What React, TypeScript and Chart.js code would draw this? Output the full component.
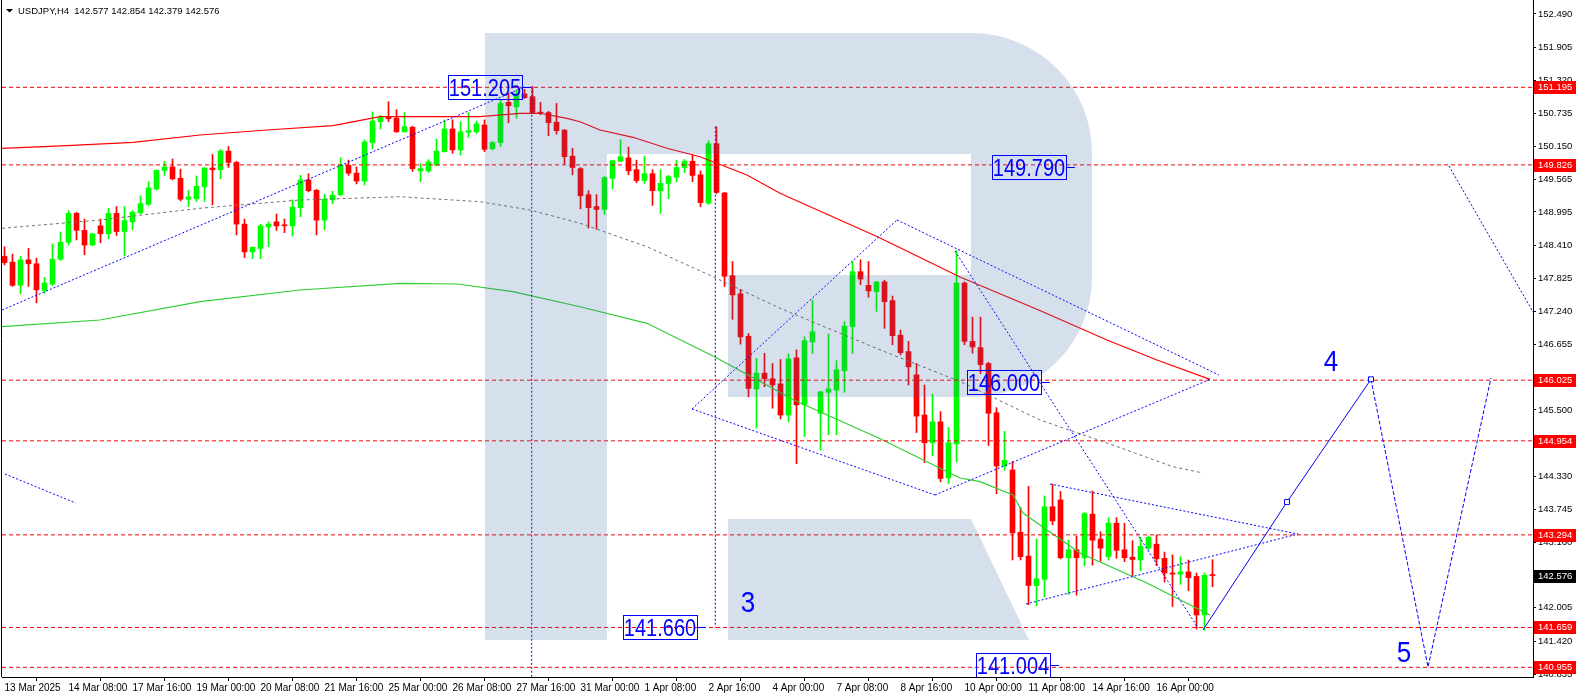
import React, { useEffect, useRef } from "react";
import { Chart, registerables } from "chart.js";

Chart.register(...registerables);

// ---------------- data ----------------
const opens = [
  148.21, 148.11, 147.70, 148.15, 148.08, 147.61, 147.72, 148.16, 148.46, 148.97,
  148.67, 148.41, 148.75, 148.61, 148.97, 148.65, 148.82, 148.98, 149.13, 149.40,
  149.73, 149.79, 149.59, 149.22, 149.23, 149.44, 149.77, 149.74, 150.07, 149.87,
  148.78, 148.29, 148.35, 148.73, 148.82, 148.76, 148.75, 149.07, 149.56, 149.38,
  148.85, 149.21, 149.30, 149.82, 149.68, 149.54, 150.22, 150.59, 150.67, 150.65,
  150.41, 150.49, 149.72, 149.72, 149.82, 150.06, 150.46, 150.09, 150.40, 150.41,
  150.53, 150.11, 150.22, 150.93, 150.85, 151.08, 151.03, 150.75, 150.75, 150.58,
  150.44, 149.98, 149.76, 149.30, 149.09, 149.04, 149.59, 149.89, 149.95, 149.74,
  149.55, 149.67, 149.37, 149.50, 149.61, 149.78, 149.89, 149.65, 149.15, 150.20,
  149.33, 147.87, 147.55, 146.80, 145.87, 146.15, 146.05, 145.96, 145.41, 146.42,
  145.59, 146.70, 145.44, 145.81, 145.85, 146.19, 146.97, 147.94, 147.70, 147.59,
  147.76, 147.43, 146.82, 146.53, 146.12, 145.41, 144.92, 145.29, 144.30, 144.90,
  147.74, 146.71, 146.60, 146.32, 145.45, 144.51, 144.44, 143.34, 142.92, 142.40,
  142.51, 143.79, 143.91, 142.89, 143.03, 142.89, 143.66, 143.22, 142.91, 143.50,
  143.03, 142.90, 142.85, 143.06, 143.13, 142.88, 142.62, 142.60, 142.64, 142.56,
  141.88, 142.577,
];
const highs = [
  148.38, 148.25, 148.21, 148.35, 148.18, 147.84, 148.43, 148.64, 149.02, 148.99,
  148.87, 148.62, 148.87, 149.06, 149.09, 149.09, 149.02, 149.28, 149.53, 149.74,
  149.89, 149.93, 149.75, 149.38, 149.63, 149.78, 150.01, 150.10, 150.15, 149.89,
  148.87, 148.38, 148.78, 148.82, 148.96, 148.87, 149.21, 149.64, 149.67, 149.39,
  149.31, 149.36, 149.95, 149.91, 149.79, 150.27, 150.76, 150.70, 150.94, 150.80,
  150.75, 150.51, 149.85, 149.92, 150.28, 150.62, 150.62, 150.59, 150.75, 150.60,
  150.62, 150.24, 150.97, 151.09, 151.15, 151.16, 151.21, 150.93, 150.77, 150.91,
  150.45, 150.12, 149.78, 149.37, 149.30, 149.62, 149.91, 150.27, 150.14, 149.91,
  149.98, 149.74, 149.74, 149.64, 149.91, 149.92, 150.00, 149.72, 150.25, 150.50,
  149.34, 148.12, 147.63, 146.85, 146.41, 146.50, 146.32, 146.39, 146.49, 146.56,
  146.79, 147.44, 145.83, 146.84, 146.37, 147.06, 148.12, 148.15, 148.12, 147.77,
  147.79, 147.51, 146.91, 146.71, 146.32, 145.94, 145.78, 145.47, 145.19, 148.31,
  147.76, 147.14, 147.14, 146.34, 145.54, 145.12, 144.59, 143.78, 144.15, 143.22,
  143.98, 144.19, 144.06, 143.20, 143.27, 143.69, 144.07, 143.35, 143.60, 143.60,
  143.50, 143.19, 143.25, 143.27, 143.29, 142.99, 142.94, 142.91, 142.85, 142.62,
  142.62, 142.854,
];
const lows = [
  148.06, 147.68, 147.55, 147.68, 147.39, 147.56, 147.70, 148.14, 148.41, 148.50,
  148.24, 148.40, 148.45, 148.52, 148.58, 148.22, 148.68, 148.96, 149.11, 149.38,
  149.64, 149.56, 149.19, 149.09, 149.18, 149.18, 149.12, 149.58, 149.78, 148.59,
  148.19, 148.17, 148.17, 148.38, 148.67, 148.63, 148.57, 148.91, 149.35, 148.59,
  148.68, 149.14, 149.28, 149.64, 149.49, 149.47, 150.11, 150.46, 150.59, 150.40,
  150.40, 149.71, 149.53, 149.69, 149.81, 150.05, 150.03, 150.00, 150.31, 150.38,
  150.06, 150.09, 150.15, 150.57, 150.65, 151.00, 150.74, 150.71, 150.34, 150.37,
  149.84, 149.65, 149.05, 148.71, 148.69, 148.95, 149.40, 149.88, 149.65, 149.51,
  149.50, 149.11, 148.97, 149.23, 149.53, 149.69, 149.53, 149.09, 149.13, 149.32,
  147.68, 147.10, 146.66, 145.73, 145.18, 145.91, 145.53, 145.34, 145.29, 144.55,
  145.03, 146.50, 144.79, 145.06, 145.06, 145.81, 146.50, 147.71, 147.49, 147.24,
  146.94, 146.65, 146.47, 145.94, 145.10, 144.57, 144.69, 144.23, 144.20, 144.58,
  146.65, 146.50, 146.14, 144.87, 144.02, 144.44, 142.85, 142.85, 142.06, 142.04,
  142.20, 143.47, 142.87, 142.24, 142.23, 142.75, 142.76, 142.83, 142.85, 142.88,
  142.82, 142.57, 142.66, 143.03, 142.75, 142.46, 142.03, 142.42, 142.31, 141.63,
  141.61, 142.379,
];
const closes = [
  148.10, 147.70, 148.15, 148.08, 147.62, 147.74, 148.16, 148.46, 148.97, 148.67,
  148.41, 148.61, 148.61, 148.97, 148.65, 148.84, 148.99, 149.14, 149.42, 149.73,
  149.79, 149.58, 149.22, 149.26, 149.45, 149.77, 149.74, 150.07, 149.87, 148.78,
  148.29, 148.37, 148.75, 148.78, 148.75, 148.75, 149.08, 149.56, 149.37, 148.85,
  149.22, 149.29, 149.82, 149.68, 149.54, 150.23, 150.60, 150.67, 150.64, 150.41,
  150.50, 149.76, 149.76, 149.88, 150.07, 150.46, 150.09, 150.41, 150.43, 150.55,
  150.10, 150.22, 150.91, 150.87, 151.08, 151.01, 150.75, 150.74, 150.57, 150.43,
  149.97, 149.78, 149.28, 149.07, 149.04, 149.60, 149.90, 149.97, 149.72, 149.55,
  149.67, 149.37, 149.50, 149.62, 149.78, 149.89, 149.64, 149.16, 150.20, 149.34,
  147.86, 147.53, 146.79, 145.88, 146.15, 146.05, 145.94, 145.41, 146.40, 145.59,
  146.72, 146.88, 145.82, 145.87, 146.21, 146.98, 147.94, 147.81, 147.60, 147.76,
  147.41, 146.81, 146.51, 146.26, 145.39, 144.92, 145.29, 144.29, 144.92, 147.74,
  146.71, 146.61, 146.30, 145.44, 144.51, 144.61, 143.33, 142.91, 142.40, 142.52,
  143.79, 143.54, 142.89, 143.03, 142.89, 143.67, 143.20, 143.06, 143.50, 143.02,
  142.89, 142.86, 143.09, 143.25, 142.87, 142.62, 142.60, 142.64, 142.54, 141.88,
  142.58, 142.576,
];

const xTickBars = [0, 8, 16, 24, 32, 40, 48, 56, 64, 72, 80, 88, 96, 104, 112, 120, 128, 136, 144];
const xTickLabels = [
  "13 Mar 2025", "14 Mar 08:00", "17 Mar 16:00", "19 Mar 00:00", "20 Mar 08:00",
  "21 Mar 16:00", "25 Mar 00:00", "26 Mar 08:00", "27 Mar 16:00", "31 Mar 00:00",
  "1 Apr 08:00", "2 Apr 16:00", "4 Apr 00:00", "7 Apr 08:00", "8 Apr 16:00",
  "10 Apr 00:00", "11 Apr 08:00", "14 Apr 16:00", "16 Apr 00:00",
];
const yTickValues = [
  152.49, 151.905, 151.32, 150.735, 150.15, 149.565, 148.995, 148.41, 147.825, 147.24,
  146.655, 146.07, 145.5, 144.915, 144.33, 143.745, 143.16, 142.575, 142.005, 141.42, 140.835,
];

// moving averages
const redMaBars = [-0.31, 7.81, 16.06, 24.44, 32.81, 41.06, 46.94, 59.44, 64.44, 66.94, 70.31, 71.94, 74.44, 78.56, 82.81, 86.94, 92.81, 96.94, 109.19, 119.44, 129.56, 137.81, 144.06, 150.69];
const redMaValues = [150.119, 150.165, 150.225, 150.354, 150.442, 150.518, 150.677, 150.677, 150.737, 150.737, 150.648, 150.588, 150.442, 150.313, 150.119, 149.97, 149.647, 149.324, 148.553, 147.847, 147.246, 146.734, 146.381, 146.04];
const grayMaBars = [-0.31, 11.94, 24.44, 36.94, 49.44, 59.44, 65.69, 71.94, 80.31, 88.56, 96.94, 109.19, 119.44, 129.44, 137.81, 146.06, 149.81];
const grayMaValues = [148.706, 148.853, 149.06, 149.206, 149.264, 149.176, 149.029, 148.795, 148.381, 147.852, 147.294, 146.575, 146.001, 145.322, 144.916, 144.497, 144.386];
const greenMaBars = [-0.31, 11.94, 24.44, 36.94, 49.44, 56.56, 63.56, 71.94, 80.31, 88.81, 99.06, 109.19, 119.44, 121.94, 126.06, 127.31, 129.44, 134.44, 142.81, 150.69];
const greenMaValues = [146.969, 147.087, 147.411, 147.617, 147.735, 147.723, 147.587, 147.322, 147.029, 146.434, 145.648, 145.009, 144.298, 144.233, 143.998, 143.68, 143.468, 142.974, 142.444, 141.879];

// horizontal levels and last price
const levelValues = [151.195, 149.826, 146.025, 144.954, 143.294, 141.659, 140.955];
const lastPrice = 142.576;

// dotted trend lines: [bar1, value1, bar2, value2]
const uptrendLine = [-0.31, 147.264, 65.06, 151.205];
const verticalLine1 = [65.9, 151.205, 65.9, 140.6];
const verticalLine2 = [88.85, 150.5, 88.85, 141.66];
const diamondAB = [85.94, 145.516, 111.56, 148.853];
const diamondBC = [111.56, 148.853, 151.81, 146.116];
const diamondAD = [85.94, 145.516, 116.31, 143.998];
const diamondDC = [116.31, 143.998, 150.81, 146.046];
const steepLine = [118.81, 148.306, 149.19, 141.65];
const wedgeTop = [130.69, 144.192, 161.69, 143.309];
const wedgeBottom = [127.69, 142.073, 161.69, 143.309];
const leftStub = [0.06, 144.368, 8.88, 143.857];
const rightDown = [180.56, 149.806, 191.94, 147.017];

// forecast paths
const forecastBars = [149.81, 160.31, 170.81];
const forecastValues = [141.614, 143.874, 146.04];
const forecastDashBars = [170.81, 177.94, 185.81];
const forecastDashValues = [146.04, 140.961, 146.063];

// text labels
const priceLabelTexts = ["151.205", "149.790", "146.000", "141.660", "141.004"];
const priceLabelBars = [64.69, 132.65, 129.61, 86.6, 130.65];
const priceLabelValues = [151.205, 149.79, 146.0, 141.66, 141.004];
const waveLabels = ["3", "4", "5"];
const waveBars = [92.94, 165.81, 174.94];
const waveValues = [142.109, 146.363, 141.226];
const headerText = "USDJPY,H4  142.577 142.854 142.379 142.576";

// ---------------- config ----------------
const X_MIN = -0.3125;
const X_MAX = 191.0625;
const Y_MIN = 140.7845;
const Y_MAX = 152.737;

const FONT = '"Liberation Sans", Arial, sans-serif';
const BLUE = "#0000ff";

const candleColors = closes.map((c, i) => (c >= opens[i] ? "#00ff00" : "#ff0000"));

function seg(s: number[], color: string, dash: number[], order: number, width = 1) {
  return {
    type: "line" as const,
    data: [{ x: s[0], y: s[1] }, { x: s[2], y: s[3] }],
    borderColor: color,
    borderWidth: width,
    borderDash: dash,
    pointRadius: 0,
    fill: false,
    tension: 0,
    order,
  };
}

function series(bars: number[], values: number[], color: string, dash: number[], width: number, order: number) {
  return {
    type: "line" as const,
    data: bars.map((b, i) => ({ x: b, y: values[i] })),
    borderColor: color,
    borderWidth: width,
    borderDash: dash,
    pointRadius: 0,
    fill: false,
    tension: 0,
    order,
  };
}

const overlayPlugin = {
  id: "overlay",
  afterDatasetsDraw(chart: any) {
    const ctx: CanvasRenderingContext2D = chart.ctx;
    const a = chart.chartArea;
    const xs = chart.scales.x;
    const ys = chart.scales.y;
    ctx.save();
    ctx.beginPath();
    ctx.rect(a.left, a.top, a.right - a.left, a.bottom - a.top);
    ctx.clip();

    // watermark "R"
    ctx.fillStyle = "rgba(51,102,158,0.2)";
    ctx.beginPath();
    ctx.moveTo(485, 33);
    ctx.lineTo(972, 33);
    ctx.arcTo(1092, 33, 1092, 153, 120);
    ctx.lineTo(1092, 277);
    ctx.arcTo(1092, 397, 972, 397, 120);
    ctx.lineTo(728, 397);
    ctx.lineTo(728, 275);
    ctx.lineTo(971, 275);
    ctx.lineTo(971, 154);
    ctx.lineTo(607, 154);
    ctx.lineTo(607, 640);
    ctx.lineTo(485, 640);
    ctx.closePath();
    ctx.moveTo(728, 519);
    ctx.lineTo(971, 519);
    ctx.lineTo(1029, 640);
    ctx.lineTo(728, 640);
    ctx.closePath();
    ctx.fill();

    // price label boxes
    priceLabelTexts.forEach((t, i) => {
      const xr = Math.round(xs.getPixelForValue(priceLabelBars[i]));
      const yc = Math.round(ys.getPixelForValue(priceLabelValues[i]));
      ctx.strokeStyle = BLUE;
      ctx.lineWidth = 1;
      ctx.strokeRect(xr - 74 + 0.5, yc - 12 + 0.5, 74, 24);
      ctx.beginPath();
      ctx.moveTo(xr, yc + 0.5);
      ctx.lineTo(xr + 9, yc + 0.5);
      ctx.stroke();
      ctx.save();
      ctx.translate(xr - 37, yc + 8.5);
      ctx.scale(1, 1.15);
      ctx.fillStyle = BLUE;
      ctx.font = `20px ${FONT}`;
      ctx.textAlign = "center";
      ctx.textBaseline = "alphabetic";
      ctx.fillText(t, 0, 0);
      ctx.restore();
    });

    // wave numbers
    waveLabels.forEach((t, i) => {
      const x = xs.getPixelForValue(waveBars[i]);
      const y = ys.getPixelForValue(waveValues[i]);
      ctx.save();
      ctx.translate(x, y + 10);
      ctx.scale(1, 1.12);
      ctx.fillStyle = BLUE;
      ctx.font = `26px ${FONT}`;
      ctx.textAlign = "center";
      ctx.textBaseline = "alphabetic";
      ctx.fillText(t, 0, 0);
      ctx.restore();
    });
    ctx.restore();
  },
  afterDraw(chart: any) {
    const ctx: CanvasRenderingContext2D = chart.ctx;
    const a = chart.chartArea;
    const ys = chart.scales.y;
    ctx.save();
    // left border
    ctx.strokeStyle = "#000";
    ctx.lineWidth = 1;
    ctx.beginPath();
    ctx.moveTo(a.left - 0.5, a.top);
    ctx.lineTo(a.left - 0.5, a.bottom);
    ctx.stroke();

    // header
    ctx.fillStyle = "#000";
    ctx.beginPath();
    ctx.moveTo(6, 9);
    ctx.lineTo(13, 9);
    ctx.lineTo(9.5, 12.5);
    ctx.closePath();
    ctx.fill();
    ctx.font = `9.5px ${FONT}`;
    ctx.textAlign = "left";
    ctx.textBaseline = "alphabetic";
    ctx.fillText(headerText, 18, 14);

    // axis price tags
    const tag = (v: number, bg: string) => {
      const y = Math.round(ys.getPixelForValue(v));
      ctx.fillStyle = bg;
      ctx.fillRect(a.right + 1, y - 6, 42, 13);
      ctx.fillStyle = "#fff";
      ctx.font = `9.5px ${FONT}`;
      ctx.textAlign = "left";
      ctx.textBaseline = "middle";
      ctx.fillText(v.toFixed(3), a.right + 5, y + 0.5);
    };
    levelValues.forEach((v) => tag(v, "#ff0000"));
    tag(lastPrice, "#000000");
    ctx.restore();
  },
};

export default function App() {
  const ref = useRef<HTMLCanvasElement>(null);
  useEffect(() => {
    document.body.style.margin = "0";
    const canvas = ref.current;
    if (!canvas) return;

    const datasets: any[] = [];
    // candles
    datasets.push({
      type: "bar",
      data: highs.map((h, i) => ({ x: i, y: [lows[i], h] })),
      backgroundColor: candleColors,
      borderWidth: 0,
      barThickness: 1,
      minBarLength: 1,
      grouped: false,
      order: 21,
    });
    datasets.push({
      type: "bar",
      data: opens.map((o, i) => ({ x: i, y: [o, closes[i]] })),
      backgroundColor: candleColors,
      borderWidth: 0,
      barThickness: 5,
      minBarLength: 1,
      grouped: false,
      order: 20,
    });
    // moving averages
    datasets.push(series(greenMaBars, greenMaValues, "#32cd32", [], 1.2, 12));
    datasets.push(series(grayMaBars, grayMaValues, "#707070", [3, 3], 1, 11));
    datasets.push(series(redMaBars, redMaValues, "#ff0000", [], 1.2, 10));
    // horizontal levels
    levelValues.forEach((v) => datasets.push(seg([X_MIN, v, X_MAX, v], "#ff0000", [4, 3], 8)));
    // dotted trend lines
    [uptrendLine, verticalLine1, verticalLine2, diamondAB, diamondBC, diamondAD, diamondDC,
      steepLine, wedgeTop, wedgeBottom, leftStub, rightDown].forEach((s) =>
      datasets.push(seg(s, BLUE, [2, 2], 6)));
    // forecast
    datasets.push({
      type: "line",
      data: forecastBars.map((b, i) => ({ x: b, y: forecastValues[i] })),
      borderColor: BLUE,
      borderWidth: 1,
      pointRadius: [0, 3.5, 3.5],
      pointStyle: "rect",
      pointBackgroundColor: "#ffffff",
      pointBorderColor: BLUE,
      pointBorderWidth: 1,
      fill: false,
      tension: 0,
      order: 4,
    });
    datasets.push(series(forecastDashBars, forecastDashValues, BLUE, [4, 2], 1, 5));

    const chart = new Chart(canvas, {
      type: "line",
      data: { datasets },
      plugins: [overlayPlugin],
      options: {
        responsive: false,
        animation: false,
        devicePixelRatio: 1,
        events: [],
        layout: { autoPadding: false, padding: { left: 2, top: 0, right: 0, bottom: 0 } },
        plugins: { legend: { display: false }, tooltip: { enabled: false } },
        scales: {
          x: {
            type: "linear",
            min: X_MIN,
            max: X_MAX,
            bounds: "data",
            offset: false,
            position: "bottom",
            grid: { display: true, drawOnChartArea: false, drawTicks: true, tickLength: 4, color: "#000" },
            border: { display: true, color: "#000", width: 1 },
            afterBuildTicks: (s: any) => { s.ticks = xTickBars.map((v) => ({ value: v })); },
            afterFit: (s: any) => { s.height = 21; s.paddingLeft = 0; s.paddingRight = 0; },
            ticks: {
              autoSkip: false,
              maxRotation: 0,
              minRotation: 0,
              align: "start",
              padding: 1,
              color: "#000",
              font: { family: FONT, size: 10 },
              callback: (_v: any, i: number) => xTickLabels[i],
            },
          },
          y: {
            type: "linear",
            min: Y_MIN,
            max: Y_MAX,
            bounds: "data",
            position: "right",
            grid: { display: true, drawOnChartArea: false, drawTicks: true, tickLength: 3, color: "#000" },
            border: { display: true, color: "#000", width: 1 },
            afterBuildTicks: (s: any) => { s.ticks = yTickValues.map((v) => ({ value: v })); },
            afterFit: (s: any) => { s.width = 45; s.paddingTop = 0; s.paddingBottom = 0; },
            ticks: {
              autoSkip: false,
              padding: 2,
              color: "#000",
              font: { family: FONT, size: 9.5 },
              callback: (v: any) => Number(v).toFixed(3),
            },
          },
        },
      } as any,
    } as any);
    return () => chart.destroy();
  }, []);

  return (
    <div style={{ width: 1578, height: 698, background: "#fff" }}>
      <canvas ref={ref} width={1578} height={698} style={{ display: "block" }} />
    </div>
  );
}
